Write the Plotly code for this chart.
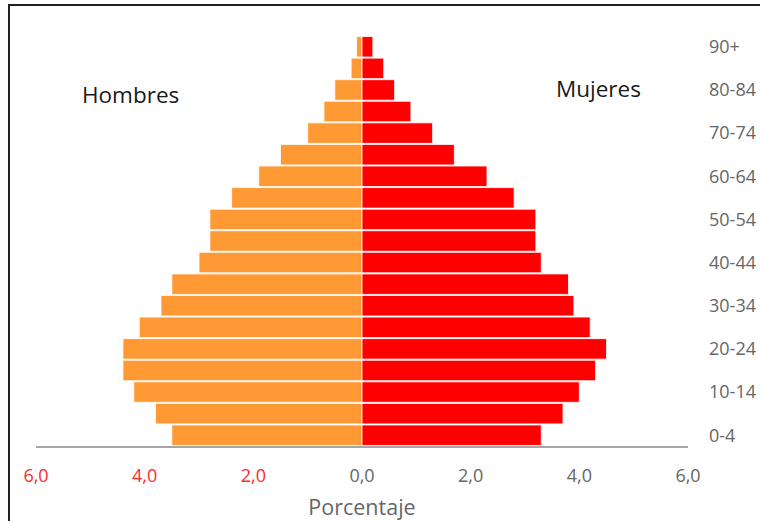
import plotly.graph_objects as go

# Age groups, youngest first (bottom of the pyramid)
age_groups = ["0-4", "5-9", "10-14", "15-19", "20-24", "25-29", "30-34", "35-39",
              "40-44", "45-49", "50-54", "55-59", "60-64", "65-69", "70-74",
              "75-79", "80-84", "85-89", "90+"]

# Share of total population (%) per age group
hombres = [3.5, 3.8, 4.2, 4.4, 4.4, 4.1, 3.7, 3.5, 3.0, 2.8, 2.8, 2.4, 1.9, 1.5,
           1.0, 0.7, 0.5, 0.2, 0.1]
mujeres = [3.3, 3.7, 4.0, 4.3, 4.5, 4.2, 3.9, 3.8, 3.3, 3.2, 3.2, 2.8, 2.3, 1.7,
           1.3, 0.9, 0.6, 0.4, 0.2]

# Age labels shown on the axis (every other group)
age_ticks = age_groups[::2]

# Percentage axis ticks; the male side is drawn as negative values
pct_vals = [-6, -4, -2, 0, 2, 4, 6]
pct_text = ["6,0", "4,0", "2,0", "0,0", "2,0", "4,0", "6,0"]

FONT = "Open Sans"
GREY = "#666666"
RED_TXT = "#FF2A2A"

fig = go.Figure()
fig.add_trace(go.Bar(
    y=age_groups, x=[-v for v in hombres], orientation="h", name="Hombres",
    marker=dict(color="#FF9933", line=dict(color="rgba(255,255,255,0.8)", width=1)),
    hoverinfo="skip",
))
fig.add_trace(go.Bar(
    y=age_groups, x=mujeres, orientation="h", name="Mujeres",
    marker=dict(color="#FF0000", line=dict(color="rgba(255,255,255,0.8)", width=1)),
    hoverinfo="skip",
))

tick_text = [
    f"<span style='color:{RED_TXT}'>{t}</span>" if v < 0 else t
    for v, t in zip(pct_vals, pct_text)
]

fig.update_layout(
    width=760, height=521,
    margin=dict(l=36, r=72, t=36, b=75),
    paper_bgcolor="white", plot_bgcolor="white",
    barmode="overlay", bargap=0.05,
    showlegend=False,
    font=dict(family=FONT, color=GREY),
    xaxis=dict(
        range=[-6, 6], tickvals=pct_vals, ticktext=tick_text,
        tickfont=dict(size=18, color=GREY), ticks="", ticklabelstandoff=12,
        showgrid=False, zeroline=False, automargin=False,
        showline=True, linecolor="#A6A6A6", linewidth=2,
        title=dict(text="Porcentaje", font=dict(size=21.5, color=GREY), standoff=14),
        fixedrange=True,
    ),
    yaxis=dict(
        type="category", categoryorder="array", categoryarray=age_groups,
        range=[-0.5, len(age_groups) - 0.5],
        side="right", tickvals=age_ticks, ticktext=age_ticks,
        tickfont=dict(size=18, color=GREY), ticks="", ticklabelstandoff=20,
        showgrid=False, zeroline=False, showline=False, automargin=False,
        fixedrange=True,
    ),
    annotations=[
        dict(text="Hombres", xref="paper", yref="paper", x=0.145, y=0.8585,
             xanchor="center", yanchor="middle", showarrow=False,
             font=dict(family=FONT, size=22.5, color="#1A1A1A")),
        dict(text="Mujeres", xref="paper", yref="paper", x=0.862, y=0.873,
             xanchor="center", yanchor="middle", showarrow=False,
             font=dict(family=FONT, size=22.5, color="#1A1A1A")),
    ],
    shapes=[
        dict(type="rect", xref="paper", yref="paper",
             x0=-0.0414, x1=1.15, y0=-0.25, y1=1.0756,
             line=dict(color="#222222", width=2), fillcolor="rgba(0,0,0,0)",
             layer="above"),
    ],
)

fig.write_html("out.html")
